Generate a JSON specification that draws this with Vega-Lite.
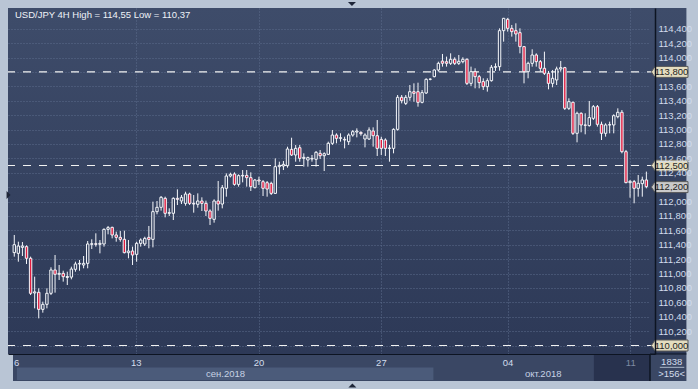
{
"$schema": "https://vega.github.io/schema/vega-lite/v6.json",
"width": 647, "height": 346,
"autosize": {"type": "none"},
"padding": {"left": 8, "top": 8, "right": 43, "bottom": 35},
"background": "#b9c5d5",
"config": {
  "font": "Liberation Sans",
  "view": {"stroke": null, "fill": {"gradient": "linear", "x1": 0, "y1": 0, "x2": 0, "y2": 1, "stops": [{"offset": 0, "color": "#3e4c6a"}, {"offset": 1, "color": "#2d3957"}]}}
},
"datasets": {
"ohlc": [
{"i":0,"o":111.29,"h":111.535,"l":111.234,"c":111.4},
{"i":1,"o":111.28,"h":111.442,"l":111.164,"c":111.382},
{"i":2,"o":111.363,"h":111.437,"l":111.243,"c":111.382},
{"i":3,"o":111.373,"h":111.391,"l":111.132,"c":111.211},
{"i":4,"o":111.211,"h":111.234,"l":110.701,"c":110.725},
{"i":5,"o":110.73,"h":110.956,"l":110.516,"c":110.745},
{"i":6,"o":110.739,"h":110.794,"l":110.377,"c":110.502},
{"i":7,"o":110.502,"h":110.609,"l":110.456,"c":110.572},
{"i":8,"o":110.572,"h":110.794,"l":110.516,"c":110.725},
{"i":9,"o":110.725,"h":111.086,"l":110.701,"c":111.049},
{"i":10,"o":111.049,"h":111.257,"l":110.734,"c":110.989},
{"i":11,"o":110.989,"h":111.118,"l":110.91,"c":111.002},
{"i":12,"o":111.002,"h":111.039,"l":110.887,"c":110.956},
{"i":13,"o":110.945,"h":111.025,"l":110.84,"c":110.958},
{"i":14,"o":110.95,"h":111.095,"l":110.919,"c":111.062},
{"i":15,"o":111.058,"h":111.164,"l":111.025,"c":111.132},
{"i":16,"o":111.132,"h":111.188,"l":111.039,"c":111.141},
{"i":17,"o":111.118,"h":111.243,"l":111.072,"c":111.141},
{"i":18,"o":111.141,"h":111.451,"l":111.072,"c":111.41},
{"i":19,"o":111.405,"h":111.475,"l":111.34,"c":111.414},
{"i":20,"o":111.414,"h":111.558,"l":111.373,"c":111.405},
{"i":21,"o":111.405,"h":111.465,"l":111.28,"c":111.419},
{"i":22,"o":111.41,"h":111.627,"l":111.373,"c":111.613},
{"i":23,"o":111.613,"h":111.66,"l":111.544,"c":111.637},
{"i":24,"o":111.641,"h":111.65,"l":111.488,"c":111.535},
{"i":25,"o":111.535,"h":111.581,"l":111.442,"c":111.502},
{"i":26,"o":111.502,"h":111.59,"l":111.442,"c":111.475},
{"i":27,"o":111.475,"h":111.595,"l":111.28,"c":111.289},
{"i":28,"o":111.289,"h":111.465,"l":111.211,"c":111.312},
{"i":29,"o":111.312,"h":111.373,"l":111.118,"c":111.257},
{"i":30,"o":111.266,"h":111.442,"l":111.164,"c":111.419},
{"i":31,"o":111.419,"h":111.488,"l":111.373,"c":111.465},
{"i":32,"o":111.41,"h":111.511,"l":111.382,"c":111.488},
{"i":33,"o":111.502,"h":111.66,"l":111.35,"c":111.474},
{"i":34,"o":111.474,"h":111.998,"l":111.363,"c":111.859},
{"i":35,"o":111.859,"h":112.007,"l":111.822,"c":111.919},
{"i":36,"o":111.919,"h":112.076,"l":111.873,"c":112.058},
{"i":37,"o":112.044,"h":112.067,"l":111.78,"c":111.836},
{"i":38,"o":111.836,"h":111.905,"l":111.798,"c":111.845},
{"i":39,"o":111.836,"h":112.058,"l":111.743,"c":112.044},
{"i":40,"o":112.044,"h":112.169,"l":111.951,"c":112.03},
{"i":41,"o":112.007,"h":112.09,"l":111.965,"c":112.058},
{"i":42,"o":111.974,"h":112.136,"l":111.942,"c":112.104},
{"i":43,"o":112.104,"h":112.122,"l":111.951,"c":111.974},
{"i":44,"o":111.974,"h":112.09,"l":111.845,"c":111.965},
{"i":45,"o":111.961,"h":112.113,"l":111.914,"c":112.007},
{"i":46,"o":112.007,"h":112.058,"l":111.868,"c":111.974},
{"i":47,"o":111.974,"h":112.012,"l":111.798,"c":111.868},
{"i":48,"o":111.868,"h":111.891,"l":111.674,"c":111.766},
{"i":49,"o":111.752,"h":112.03,"l":111.706,"c":112.007},
{"i":50,"o":112.007,"h":112.285,"l":111.873,"c":111.965},
{"i":51,"o":111.965,"h":112.229,"l":111.905,"c":112.192},
{"i":52,"o":112.183,"h":112.391,"l":112.067,"c":112.354},
{"i":53,"o":112.354,"h":112.4,"l":112.335,"c":112.377},
{"i":54,"o":112.382,"h":112.405,"l":112.22,"c":112.238},
{"i":55,"o":112.238,"h":112.377,"l":112.206,"c":112.359},
{"i":56,"o":112.354,"h":112.437,"l":112.266,"c":112.363},
{"i":57,"o":112.363,"h":112.437,"l":112.206,"c":112.331},
{"i":58,"o":112.331,"h":112.405,"l":112.146,"c":112.206},
{"i":59,"o":112.192,"h":112.312,"l":112.183,"c":112.298},
{"i":60,"o":112.298,"h":112.345,"l":112.229,"c":112.285},
{"i":61,"o":112.275,"h":112.298,"l":112.076,"c":112.183},
{"i":62,"o":112.261,"h":112.285,"l":112.067,"c":112.173},
{"i":63,"o":112.252,"h":112.275,"l":112.09,"c":112.113},
{"i":64,"o":112.113,"h":112.599,"l":112.104,"c":112.484},
{"i":65,"o":112.484,"h":112.553,"l":112.377,"c":112.502},
{"i":66,"o":112.493,"h":112.562,"l":112.437,"c":112.516},
{"i":67,"o":112.497,"h":112.761,"l":112.47,"c":112.729},
{"i":68,"o":112.724,"h":112.886,"l":112.632,"c":112.646},
{"i":69,"o":112.646,"h":112.785,"l":112.553,"c":112.738},
{"i":70,"o":112.747,"h":112.785,"l":112.553,"c":112.599},
{"i":71,"o":112.599,"h":112.669,"l":112.484,"c":112.613},
{"i":72,"o":112.576,"h":112.623,"l":112.484,"c":112.609},
{"i":73,"o":112.59,"h":112.646,"l":112.553,"c":112.599},
{"i":74,"o":112.586,"h":112.701,"l":112.484,"c":112.683},
{"i":75,"o":112.669,"h":112.715,"l":112.59,"c":112.636},
{"i":76,"o":112.636,"h":112.683,"l":112.423,"c":112.664},
{"i":77,"o":112.655,"h":112.831,"l":112.646,"c":112.808},
{"i":78,"o":112.808,"h":112.993,"l":112.785,"c":112.923},
{"i":79,"o":112.923,"h":112.947,"l":112.808,"c":112.877},
{"i":80,"o":112.877,"h":112.947,"l":112.831,"c":112.886},
{"i":81,"o":112.863,"h":112.9,"l":112.738,"c":112.854},
{"i":82,"o":112.831,"h":112.947,"l":112.785,"c":112.923},
{"i":83,"o":112.923,"h":112.993,"l":112.9,"c":112.97},
{"i":84,"o":112.965,"h":113.016,"l":112.891,"c":112.979},
{"i":85,"o":112.96,"h":112.975,"l":112.914,"c":112.942},
{"i":86,"o":112.868,"h":112.947,"l":112.752,"c":112.923},
{"i":87,"o":112.868,"h":113.03,"l":112.854,"c":112.993},
{"i":88,"o":112.979,"h":113.03,"l":112.762,"c":112.914},
{"i":89,"o":112.914,"h":113.132,"l":112.632,"c":112.738},
{"i":90,"o":112.863,"h":112.9,"l":112.646,"c":112.738},
{"i":91,"o":112.854,"h":112.877,"l":112.632,"c":112.738},
{"i":92,"o":112.738,"h":112.785,"l":112.553,"c":112.743},
{"i":93,"o":112.738,"h":113.016,"l":112.669,"c":113.002},
{"i":94,"o":113.002,"h":113.479,"l":112.984,"c":113.447},
{"i":95,"o":113.447,"h":113.479,"l":113.363,"c":113.4},
{"i":96,"o":113.363,"h":113.479,"l":113.34,"c":113.447},
{"i":97,"o":113.447,"h":113.618,"l":113.4,"c":113.525},
{"i":98,"o":113.525,"h":113.641,"l":113.386,"c":113.502},
{"i":99,"o":113.525,"h":113.65,"l":113.317,"c":113.377},
{"i":100,"o":113.377,"h":113.549,"l":113.363,"c":113.512},
{"i":101,"o":113.507,"h":113.711,"l":113.493,"c":113.697},
{"i":102,"o":113.697,"h":113.711,"l":113.683,"c":113.7},
{"i":103,"o":113.734,"h":113.836,"l":113.724,"c":113.826},
{"i":104,"o":113.826,"h":113.942,"l":113.803,"c":113.919},
{"i":105,"o":113.95,"h":114.049,"l":113.873,"c":113.92},
{"i":106,"o":113.942,"h":114.012,"l":113.873,"c":113.919},
{"i":107,"o":113.919,"h":114.058,"l":113.896,"c":113.975},
{"i":108,"o":113.975,"h":114.003,"l":113.896,"c":113.919},
{"i":109,"o":113.919,"h":114.035,"l":113.896,"c":113.947},
{"i":110,"o":113.942,"h":114.003,"l":113.919,"c":113.975},
{"i":111,"o":113.975,"h":113.989,"l":113.618,"c":113.641},
{"i":112,"o":113.641,"h":113.873,"l":113.604,"c":113.803},
{"i":113,"o":113.803,"h":113.85,"l":113.572,"c":113.734},
{"i":114,"o":113.734,"h":113.757,"l":113.572,"c":113.651},
{"i":115,"o":113.665,"h":113.711,"l":113.549,"c":113.595},
{"i":116,"o":113.595,"h":113.711,"l":113.526,"c":113.678},
{"i":117,"o":113.678,"h":113.896,"l":113.665,"c":113.864},
{"i":118,"o":113.864,"h":113.919,"l":113.813,"c":113.873},
{"i":119,"o":113.873,"h":114.405,"l":113.817,"c":114.373},
{"i":120,"o":114.373,"h":114.55,"l":114.22,"c":114.544},
{"i":121,"o":114.53,"h":114.55,"l":114.359,"c":114.405},
{"i":122,"o":114.405,"h":114.452,"l":114.29,"c":114.359},
{"i":123,"o":114.373,"h":114.475,"l":114.22,"c":114.327},
{"i":124,"o":114.345,"h":114.405,"l":114.058,"c":114.151},
{"i":125,"o":114.151,"h":114.16,"l":113.641,"c":113.803},
{"i":126,"o":113.803,"h":113.942,"l":113.711,"c":113.919},
{"i":127,"o":113.919,"h":114.114,"l":113.873,"c":114.035},
{"i":128,"o":114.035,"h":114.058,"l":113.873,"c":113.942},
{"i":129,"o":113.942,"h":113.965,"l":113.803,"c":113.85},
{"i":130,"o":113.85,"h":114.081,"l":113.757,"c":113.78},
{"i":131,"o":113.78,"h":113.813,"l":113.558,"c":113.641},
{"i":132,"o":113.641,"h":113.827,"l":113.586,"c":113.711},
{"i":133,"o":113.688,"h":113.873,"l":113.618,"c":113.841},
{"i":134,"o":113.841,"h":113.952,"l":113.804,"c":113.859},
{"i":135,"o":113.859,"h":113.87,"l":113.271,"c":113.294},
{"i":136,"o":113.294,"h":113.433,"l":113.271,"c":113.387},
{"i":137,"o":113.378,"h":113.387,"l":112.924,"c":112.947},
{"i":138,"o":112.947,"h":113.248,"l":112.822,"c":113.225},
{"i":139,"o":113.225,"h":113.239,"l":112.961,"c":113.063},
{"i":140,"o":113.063,"h":113.225,"l":112.933,"c":113.058},
{"i":141,"o":113.054,"h":113.396,"l":113.04,"c":113.165},
{"i":142,"o":113.155,"h":113.34,"l":113.132,"c":113.317},
{"i":143,"o":113.317,"h":113.34,"l":113.04,"c":113.072},
{"i":144,"o":113.072,"h":113.109,"l":112.854,"c":112.947},
{"i":145,"o":112.947,"h":113.086,"l":112.901,"c":113.063},
{"i":146,"o":113.063,"h":113.109,"l":112.947,"c":113.067},
{"i":147,"o":113.063,"h":113.211,"l":112.947,"c":113.192},
{"i":148,"o":113.178,"h":113.294,"l":113.155,"c":113.239},
{"i":149,"o":113.239,"h":113.271,"l":112.669,"c":112.692},
{"i":150,"o":112.692,"h":112.716,"l":112.253,"c":112.262},
{"i":151,"o":112.262,"h":112.299,"l":112.053,"c":112.28},
{"i":152,"o":112.276,"h":112.299,"l":111.975,"c":112.183},
{"i":153,"o":112.183,"h":112.368,"l":112.067,"c":112.253},
{"i":154,"o":112.248,"h":112.345,"l":112.067,"c":112.299},
{"i":155,"o":112.299,"h":112.415,"l":112.183,"c":112.206}
],
"levels": [
{"v":113.8,"label":"113,800","kind":"level"},
{"v":112.5,"label":"112,500","kind":"level"},
{"v":110.0,"label":"110,000","kind":"level"},
{"v":112.2,"label":"112,200","kind":"last"}
]
},
"layer": [
{"data": {"values": [{}]}, "mark": {"type": "rect", "color": "#3a4764", "clip": false},
 "encoding": {"x": {"datum": -0.314, "type": "quantitative", "axis": null}, "x2": {"datum": 164.82}, "y": {"datum": 109.882, "type": "quantitative", "axis": null}, "y2": {"datum": 109.507}}},
{"data": {"values": [{}]}, "mark": {"type": "rect", "color": "#4b5b7a", "clip": false},
 "encoding": {"x": {"datum": 0.65, "type": "quantitative", "axis": null}, "x2": {"datum": 102.78}, "y": {"datum": 109.694, "type": "quantitative", "axis": null}, "y2": {"datum": 109.521}}},
{"data": {"values": [{}]}, "mark": {"type": "rect", "color": "#28324e", "clip": false},
 "encoding": {"x": {"datum": 142.13, "type": "quantitative", "axis": null}, "x2": {"datum": 155.89}, "y": {"datum": 109.868, "type": "quantitative", "axis": null}, "y2": {"datum": 109.507}}},
{"data": {"values": [{}]}, "mark": {"type": "rect", "clip": false, "color": {"gradient": "linear", "x1": 0, "y1": 0, "x2": 0, "y2": 1, "stops": [{"offset": 0, "color": "#3e4c6a"}, {"offset": 1, "color": "#2d3957"}]}},
 "encoding": {"x": {"datum": 155.89, "type": "quantitative", "axis": null}, "x2": {"datum": 164.82}, "y": {"datum": 114.6875, "type": "quantitative", "axis": null}, "y2": {"datum": 109.882}}},
{"data": {"name": "levels"}, "transform": [{"filter": "datum.kind === 'level'"}],
 "mark": {"type": "rule", "color": "#f2f2f2", "strokeDash": [8, 8], "strokeWidth": 1.2},
 "encoding": {"y": {"field": "v", "type": "quantitative", "axis": null}}},
{"data": {"name": "ohlc"}, "mark": {"type": "rule", "color": "#f4f6fa", "strokeWidth": 1},
 "encoding": {
  "x": {"field": "i", "type": "quantitative", "scale": {"domain": [-0.314, 155.89], "nice": false, "zero": false},
        "axis": {"orient": "top", "values": [29.8, 59.9, 89.9, 120.95, 151.05], "grid": true, "gridColor": "#5d6d8c", "gridDash": [1, 2], "gridWidth": 1, "labels": false, "ticks": false, "domain": false, "title": null, "zindex": 0}},
  "y": {"field": "l", "type": "quantitative", "scale": {"domain": [109.882, 114.6875], "nice": false, "zero": false},
        "axis": {"orient": "left", "values": [110, 110.2, 110.4, 110.6, 110.8, 111, 111.2, 111.4, 111.6, 111.8, 112, 112.2, 112.4, 112.6, 112.8, 113, 113.2, 113.4, 113.6, 113.8, 114, 114.2, 114.4], "grid": true, "gridColor": "#5d6d8c", "gridDash": [1, 2], "gridWidth": 1, "labels": false, "ticks": false, "domain": false, "title": null, "zindex": 0}},
  "y2": {"field": "h"}
 }},
{"data": {"name": "ohlc"}, "mark": {"type": "bar", "size": 2.4, "stroke": "#f4f6fa", "strokeWidth": 1},
 "encoding": {
  "x": {"field": "i", "type": "quantitative", "scale": {"domain": [-0.314, 155.89], "nice": false, "zero": false},
        "axis": {"orient": "bottom", "values": [0.45, 29.8, 59.9, 89.9, 120.95, 151.05], "grid": false, "labelExpr": "datum.value < 10 ? '6' : datum.value < 40 ? '13' : datum.value < 70 ? '20' : datum.value < 100 ? '27' : datum.value < 130 ? '04' : '11'", "labelColor": {"condition": {"test": "datum.value > 140", "value": "#7d8aa3"}, "value": "#d2dcec"}, "labelFontSize": 9.5, "labelPadding": 3, "labelBaseline": "top", "labelFlush": false, "labelOverlap": false, "ticks": false, "tickSize": 0, "domain": true, "domainColor": "#0d1422", "domainWidth": 1.2, "title": null, "zindex": 1}},
  "y": {"field": "o", "type": "quantitative", "scale": {"domain": [109.882, 114.6875], "nice": false, "zero": false},
        "axis": {"orient": "right", "values": [110.2, 110.4, 110.6, 110.8, 111, 111.2, 111.4, 111.6, 111.8, 112, 112.4, 112.6, 112.8, 113, 113.2, 113.4, 113.6, 114, 114.2, 114.4], "grid": false, "labelExpr": "replace(format(datum.value, '.3f'), '.', ',')", "labelColor": "#d2dcec", "labelFontSize": 9.5, "labelPadding": 3, "labelAlign": "left", "labelBaseline": "middle", "labelFlush": false, "labelOverlap": false, "ticks": false, "tickSize": 0, "domain": true, "domainColor": "#0d1422", "domainWidth": 1.5, "title": null, "zindex": 1}},
  "y2": {"field": "c"},
  "fill": {"condition": {"test": "datum.o > datum.c", "value": "#e01b3f"}, "value": "#33405e"}
 }},
{"data": {"values": [{}]}, "mark": {"type": "rule", "color": "#0d1422", "strokeWidth": 1.5, "clip": false},
 "encoding": {"x": {"datum": 155.89, "type": "quantitative", "axis": null}, "y": {"datum": 109.882, "type": "quantitative", "axis": null}, "y2": {"datum": 109.507}}},
{"data": {"values": [{}]}, "mark": {"type": "rule", "color": "#0d1422", "strokeWidth": 1.2, "clip": false},
 "encoding": {"x": {"datum": 155.89, "type": "quantitative", "axis": null}, "x2": {"datum": 164.82}, "y": {"datum": 109.882, "type": "quantitative", "axis": null}}},
{"data": {"name": "levels"}, "mark": {"type": "point", "shape": "M-1,0L-0.8,-0.3L1,-0.3L1,0.3L-0.8,0.3Z", "size": 1340, "filled": true, "opacity": 1, "stroke": "#5a5a5a", "strokeWidth": 1, "clip": false},
 "encoding": {"x": {"datum": 160.72, "type": "quantitative", "axis": null}, "y": {"field": "v", "type": "quantitative", "axis": null},
  "fill": {"condition": {"test": "datum.kind === 'last'", "value": "#cacaca"}, "value": "#e4ddc0"}}},
{"data": {"name": "levels"}, "mark": {"type": "text", "fontSize": 9.5, "color": "#1e1e1e", "align": "center", "baseline": "middle", "clip": false},
 "encoding": {"x": {"datum": 161.18, "type": "quantitative", "axis": null}, "y": {"field": "v", "type": "quantitative", "axis": null}, "text": {"field": "label"}}},
{"data": {"values": [{}]}, "mark": {"type": "text", "text": "USD/JPY 4H High = 114,55 Low = 110,37", "fontSize": 9.5, "color": "#eef2f8", "align": "left", "baseline": "top", "dx": 2, "dy": 2, "clip": false},
 "encoding": {"x": {"datum": -0.314, "type": "quantitative", "axis": null}, "y": {"datum": 114.6875, "type": "quantitative", "axis": null}}},
{"data": {"values": [{}]}, "mark": {"type": "text", "text": "сен.2018", "fontSize": 9.5, "color": "#c6d2e4", "align": "center", "baseline": "middle", "clip": false},
 "encoding": {"x": {"datum": 51.8, "type": "quantitative", "axis": null}, "y": {"datum": 109.604, "type": "quantitative", "axis": null}}},
{"data": {"values": [{}]}, "mark": {"type": "text", "text": "окт.2018", "fontSize": 9.5, "color": "#c6d2e4", "align": "center", "baseline": "middle", "clip": false},
 "encoding": {"x": {"datum": 129.7, "type": "quantitative", "axis": null}, "y": {"datum": 109.604, "type": "quantitative", "axis": null}}},
{"data": {"values": [{}]}, "mark": {"type": "text", "text": "1838", "fontSize": 9.5, "color": "#d2dcec", "align": "center", "baseline": "middle", "clip": false},
 "encoding": {"x": {"datum": 161.2, "type": "quantitative", "axis": null}, "y": {"datum": 109.775, "type": "quantitative", "axis": null}}},
{"data": {"values": [{}]}, "mark": {"type": "text", "text": ">156<", "fontSize": 9.5, "color": "#d2dcec", "align": "center", "baseline": "middle", "clip": false},
 "encoding": {"x": {"datum": 161.2, "type": "quantitative", "axis": null}, "y": {"datum": 109.604, "type": "quantitative", "axis": null}}},
{"data": {"values": [{}]}, "mark": {"type": "rule", "color": "#aab6c8", "strokeWidth": 1, "clip": false},
 "encoding": {"x": {"datum": 158.3, "type": "quantitative", "axis": null}, "x2": {"datum": 164.3}, "y": {"datum": 109.697, "type": "quantitative", "axis": null}}},
{"data": {"values": [{}]}, "mark": {"type": "point", "shape": "M-1,-0.5L1,-0.5L0,0.5Z", "size": 64, "filled": true, "opacity": 1, "color": "#1e2638", "clip": false},
 "encoding": {"x": {"datum": 82.8, "type": "quantitative", "axis": null}, "y": {"datum": 114.743, "type": "quantitative", "axis": null}}},
{"data": {"values": [{}]}, "mark": {"type": "point", "shape": "M-1,0.5L1,0.5L0,-0.5Z", "size": 64, "filled": true, "opacity": 1, "color": "#1e2638", "clip": false},
 "encoding": {"x": {"datum": 82.9, "type": "quantitative", "axis": null}, "y": {"datum": 109.444, "type": "quantitative", "axis": null}}},
{"data": {"values": [{}]}, "mark": {"type": "point", "shape": "M-0.5,-1L0.5,0L-0.5,1Z", "size": 64, "filled": true, "opacity": 1, "color": "#1e2638", "clip": false},
 "encoding": {"x": {"datum": -1.4, "type": "quantitative", "axis": null}, "y": {"datum": 112.09, "type": "quantitative", "axis": null}}}
],
"resolve": {"axis": {"x": "independent", "y": "independent"}}
}
